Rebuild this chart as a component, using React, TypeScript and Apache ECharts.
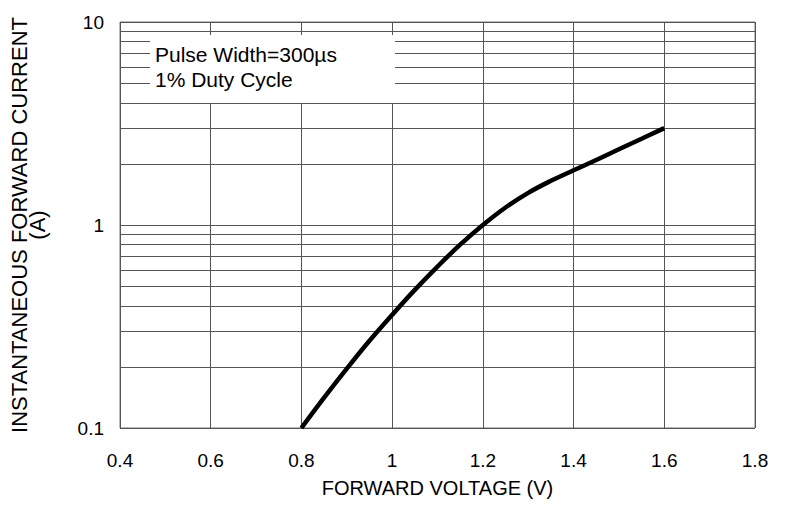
import React, { useEffect, useRef } from "react";
import * as echarts from "echarts";

const voltage = [0.8, 0.85, 0.9, 0.95, 1.0, 1.05, 1.1, 1.15, 1.2, 1.25, 1.3, 1.35, 1.4, 1.45, 1.5, 1.55, 1.6];
const current = [0.1, 0.141, 0.196, 0.269, 0.361, 0.479, 0.624, 0.8, 1.0, 1.22, 1.44, 1.65, 1.86, 2.09, 2.36, 2.66, 3.0];
const minorGrid = [0.2, 0.3, 0.4, 0.5, 0.6, 0.7, 0.8, 0.9, 2, 3, 4, 5, 6, 7, 8, 9];
const noteLines = ["Pulse Width=300µs", "1% Duty Cycle"];
const xName = "FORWARD VOLTAGE (V)";
const yName = "INSTANTANEOUS FORWARD CURRENT\n(A)";

const FONT = "Liberation Sans, Arial, sans-serif";

export default function App() {
  const ref = useRef<HTMLDivElement>(null);
  useEffect(() => {
    if (!ref.current) return;
    const chart = echarts.init(ref.current, undefined, { renderer: "svg" });
    chart.setOption({
      animation: false,
      grid: { left: 118, right: 36, top: 22, bottom: 97, show: true, borderColor: "#777", borderWidth: 1 },
      xAxis: {
        type: "value",
        min: 0.4,
        max: 1.8,
        interval: 0.2,
        name: xName,
        nameLocation: "middle",
        nameGap: 50,
        nameTextStyle: { fontFamily: FONT, fontSize: 20, color: "#000" },
        axisLine: { show: false },
        axisTick: { show: false },
        axisLabel: { fontFamily: FONT, fontSize: 19, color: "#000", margin: 23, formatter: (v: number) => String(Math.round(v * 10) / 10) },
        splitLine: { show: true, lineStyle: { color: "#555", width: 1 } },
      },
      yAxis: {
        type: "log",
        logBase: 10,
        min: 0.1,
        max: 10,
        name: yName,
        nameLocation: "middle",
        nameGap: 74,
        nameTextStyle: { fontFamily: FONT, fontSize: 22, color: "#000", lineHeight: 18 },
        axisLine: { show: false },
        axisTick: { show: false },
        axisLabel: { fontFamily: FONT, fontSize: 19, color: "#000", margin: 16 },
        splitLine: { show: true, lineStyle: { color: "#555", width: 1 } },
      },
      series: [
        {
          type: "line",
          data: voltage.map((v, i) => [v, current[i]]),
          smooth: 0.4,
          symbol: "none",
          lineStyle: { color: "#000", width: 4.5 },
          z: 5,
          markLine: {
            silent: true,
            symbol: "none",
            label: { show: false },
            lineStyle: { color: "#555", width: 1, type: "solid" },
            data: minorGrid.map((g) => ({ yAxis: g })),
            z: 1,
          },
        },
      ],
      graphic: [
        { type: "rect", shape: { x: 150, y: 35, width: 245, height: 68 }, style: { fill: "#fff" }, z: 10 },
        { type: "text", x: 155, y: 44, style: { text: noteLines[0], fontFamily: FONT, fontSize: 21, fill: "#000" }, z: 11 },
        { type: "text", x: 155, y: 69, style: { text: noteLines[1], fontFamily: FONT, fontSize: 21, fill: "#000" }, z: 11 },
      ],
    });
    return () => chart.dispose();
  }, []);
  return <div ref={ref} style={{ width: 791, height: 525, position: "absolute", left: 0, top: 0, background: "#fff" }} />;
}
